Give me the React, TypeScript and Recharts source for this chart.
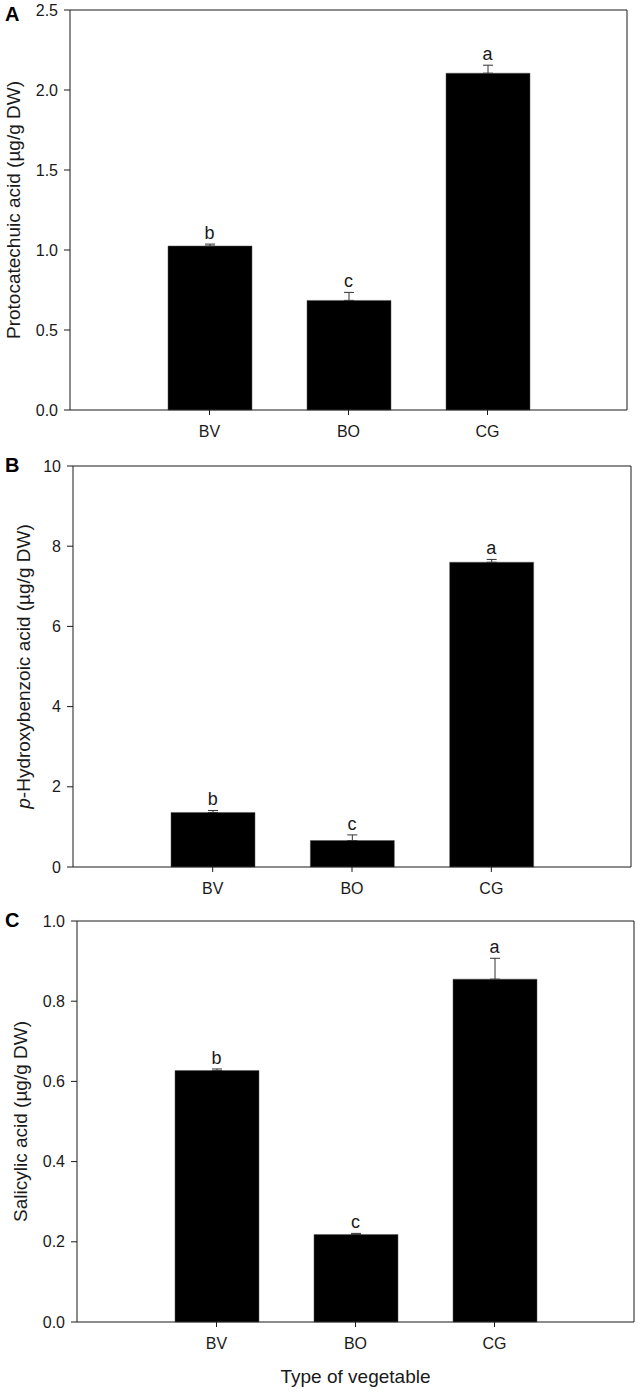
import {
  Bar,
  ComposedChart,
  ErrorBar,
  Label,
  LabelList,
  Line,
  XAxis,
  YAxis
} from 'recharts'

const categories = ['BV', 'BO', 'CG']
const letters = ['b', 'c', 'a']

const protocatechuic = [1.025, 0.685, 2.105]
const protocatechuicErr = [0.012, 0.05, 0.05]
const protocatechuicTicks = [0, 0.5, 1.0, 1.5, 2.0, 2.5]

const hydroxybenzoic = [1.36, 0.66, 7.6]
const hydroxybenzoicErr = [0.05, 0.14, 0.07]
const hydroxybenzoicTicks = [0, 2, 4, 6, 8, 10]

const salicylic = [0.627, 0.218, 0.855]
const salicylicErr = [0.004, 0.003, 0.052]
const salicylicTicks = [0, 0.2, 0.4, 0.6, 0.8, 1.0]

const FONT = '"Liberation Sans", Arial, sans-serif'
const INK = '#1a1a1a'

type PanelProps = {
  values: number[]
  errs: number[]
  ticks: number[]
  decimals: number
  title: React.ReactNode
  titleX: number
  panel: string
  top: number
  height: number
  axisWidth: number
  right: number
  xAxisHeight: number
  xTitle?: string
}

function Panel(p: PanelProps) {
  const rows = categories.map((name, i) => ({
    name,
    value: p.values[i],
    err: [0, p.errs[i]],
    top: p.values[i] + p.errs[i],
    letter: letters[i]
  }))
  const plotW = 638 - p.axisWidth - p.right
  const pad = Math.round(plotW / 8)
  const tickStyle = { fill: INK, fontSize: 16, fontFamily: FONT }

  return (
    <div style={{ position: 'absolute', left: 0, top: p.top }}>
      <div
        style={{
          position: 'absolute',
          left: 5,
          top: p.panel === 'A' ? 3 : -2,
          fontFamily: FONT,
          fontWeight: 'bold',
          fontSize: 20,
          color: '#000',
          zIndex: 2
        }}
      >
        {p.panel}
      </div>
      <ComposedChart
        width={638}
        height={p.height}
        data={rows}
        margin={{ top: 9, right: p.right - 1, left: 0, bottom: 0 }}
      >
        <XAxis
          dataKey="name"
          height={p.xAxisHeight}
          padding={{ left: pad, right: pad }}
          tick={tickStyle}
          tickSize={5}
          tickMargin={11}
          axisLine={{ stroke: INK }}
          tickLine={{ stroke: INK }}
        >
          {p.xTitle && (
            <Label
              content={({ viewBox }: any) => (
                <text
                  x={viewBox.x + viewBox.width / 2}
                  y={viewBox.y + 61}
                  textAnchor="middle"
                  fontSize={19}
                  fontFamily={FONT}
                  fill={INK}
                >
                  {p.xTitle}
                </text>
              )}
            />
          )}
        </XAxis>
        <XAxis
          xAxisId="frame"
          dataKey="name"
          orientation="top"
          height={1}
          tick={false}
          tickLine={false}
          axisLine={{ stroke: INK }}
        />
        <YAxis
          width={p.axisWidth}
          domain={[0, p.ticks[p.ticks.length - 1]]}
          ticks={p.ticks}
          tickFormatter={(v: number) => v.toFixed(p.decimals)}
          tick={tickStyle}
          tickSize={6}
          tickMargin={6}
          axisLine={{ stroke: INK }}
          tickLine={{ stroke: INK }}
        >
          <Label
            content={({ viewBox }: any) => {
              const cy = viewBox.y + viewBox.height / 2
              return (
                <text
                  x={p.titleX}
                  y={cy}
                  transform={`rotate(-90 ${p.titleX} ${cy})`}
                  textAnchor="middle"
                  dominantBaseline="central"
                  fontSize={19}
                  fontFamily={FONT}
                  fill={INK}
                >
                  {p.title}
                </text>
              )
            }}
          />
        </YAxis>
        <YAxis
          yAxisId="frame"
          orientation="right"
          width={1}
          tick={false}
          tickLine={false}
          axisLine={{ stroke: INK }}
        />
        <Bar dataKey="value" fill="#000" stroke="#555" strokeWidth={0.5} barSize={84} isAnimationActive={false}>
          <ErrorBar dataKey="err" direction="y" width={5} stroke="#333" strokeWidth={1} isAnimationActive={false} />
        </Bar>
        <Line dataKey="top" stroke="none" dot={false} activeDot={false} isAnimationActive={false}>
          <LabelList
            dataKey="letter"
            position="top"
            offset={5}
            style={{ fill: INK, fontSize: 18, fontFamily: FONT }}
          />
        </Line>
      </ComposedChart>
    </div>
  )
}

export default function App() {
  return (
    <div style={{ position: 'absolute', left: 0, top: 0, width: 638, height: 1392, background: '#fff' }}>
      <Panel
        values={protocatechuic}
        errs={protocatechuicErr}
        ticks={protocatechuicTicks}
        decimals={1}
        title="Protocatechuic acid (µg/g DW)"
        titleX={13}
        panel="A"
        top={0}
        height={455}
        axisWidth={70}
        right={11}
        xAxisHeight={45}
      />
      <Panel
        values={hydroxybenzoic}
        errs={hydroxybenzoicErr}
        ticks={hydroxybenzoicTicks}
        decimals={0}
        title={
          <>
            <tspan fontStyle="italic">p</tspan>-Hydroxybenzoic acid (µg/g DW)
          </>
        }
        titleX={23}
        panel="B"
        top={456}
        height={456}
        axisWidth={73}
        right={7}
        xAxisHeight={45}
      />
      <Panel
        values={salicylic}
        errs={salicylicErr}
        ticks={salicylicTicks}
        decimals={1}
        title="Salicylic acid (µg/g DW)"
        titleX={20}
        panel="C"
        top={911}
        height={481}
        axisWidth={77}
        right={4}
        xAxisHeight={70}
        xTitle="Type of vegetable"
      />
    </div>
  )
}
